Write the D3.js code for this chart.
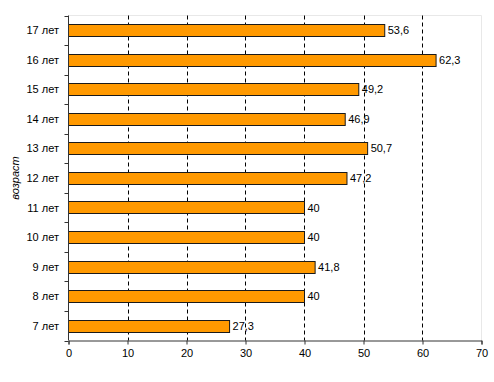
<!DOCTYPE html>
<html><head><meta charset="utf-8">
<script src="https://cdn.jsdelivr.net/npm/d3@7"></script>
<style>body{margin:0;background:#fff}svg{display:block}text{font-family:"Liberation Sans",Arial,sans-serif}</style>
</head><body>
<svg id="c" width="494" height="382"></svg>
<script>
const categories = ["17 лет","16 лет","15 лет","14 лет","13 лет","12 лет","11 лет","10 лет","9 лет","8 лет","7 лет"];
const values = [53.6,62.3,49.2,46.9,50.7,47.2,40,40,41.8,40,27.3];
const labels = ["53,6","62,3","49,2","46,9","50,7","47,2","40","40","41,8","40","27,3"];
const xTicks = [0,10,20,30,40,50,60,70];
const gridTicks = [10,20,30,40,50,60];
const axisTitle = "возраст";

const svg = d3.select("#c");
const L=68.5,R=481.5,T=15.5,B=340.5;
const x = d3.scaleLinear().domain([0,70]).range([L,R]);
const y = d3.scaleBand().domain(categories).range([T,B]).paddingInner(0.59).paddingOuter(0.295);

// plot border (light)
svg.append("path").attr("d",`M${L},${T}H${R}V${B}`).attr("fill","none").attr("stroke","#e8e8e8");

// grid
svg.selectAll(".g").data(gridTicks).enter().append("line")
  .attr("x1",d=>Math.round(x(d))+0.5).attr("x2",d=>Math.round(x(d))+0.5)
  .attr("y1",T).attr("y2",B).attr("stroke","#000").attr("stroke-dasharray","4,3");

// bars
svg.selectAll(".b").data(values).enter().append("rect")
  .attr("x",L).attr("y",(d,i)=>Math.round(y(categories[i]))+0.5)
  .attr("width",d=>x(d)-L).attr("height",Math.round(y.bandwidth()))
  .attr("fill","#FF9900").attr("stroke","#1a1a1a").attr("stroke-width",1);

// value labels
svg.selectAll(".v").data(values).enter().append("text")
  .attr("x",d=>x(d)+3).attr("y",(d,i)=>y(categories[i])+y.bandwidth()/2)
  .attr("dy","0.36em").attr("font-size",11).attr("fill","#000")
  .text((d,i)=>labels[i]);

// x axis
const xa = svg.append("g").attr("transform",`translate(0,${B})`)
  .call(d3.axisBottom(x).tickValues(xTicks).tickSize(4).tickPadding(5).tickFormat(d3.format("d")));
xa.select(".domain").attr("stroke","#333");
xa.selectAll("line").attr("stroke","#333");
xa.selectAll("text").attr("font-size",11).attr("fill","#000").style("font-family","'Liberation Sans',Arial,sans-serif");

// y axis
const yEdges = d3.range(categories.length+1).map(i=>T+i*(B-T)/categories.length);
const ya = svg.append("g");
ya.append("line").attr("x1",L).attr("x2",L).attr("y1",T).attr("y2",B).attr("stroke","#333");
ya.selectAll(".t").data(yEdges).enter().append("line")
  .attr("x1",L-4).attr("x2",L).attr("y1",d=>Math.round(d)+0.5).attr("y2",d=>Math.round(d)+0.5).attr("stroke","#333");
ya.selectAll(".yl").data(categories).enter().append("text")
  .attr("x",59).attr("y",d=>y(d)+y.bandwidth()/2).attr("dy","0.36em")
  .attr("text-anchor","end").attr("font-size",11).attr("fill","#000").text(d=>d);

svg.append("text").attr("transform",`translate(19,${(T+B)/2}) rotate(-90)`)
  .attr("text-anchor","middle").attr("font-size",11).attr("font-style","italic").attr("fill","#000").text(axisTitle);
</script>
</body></html>
